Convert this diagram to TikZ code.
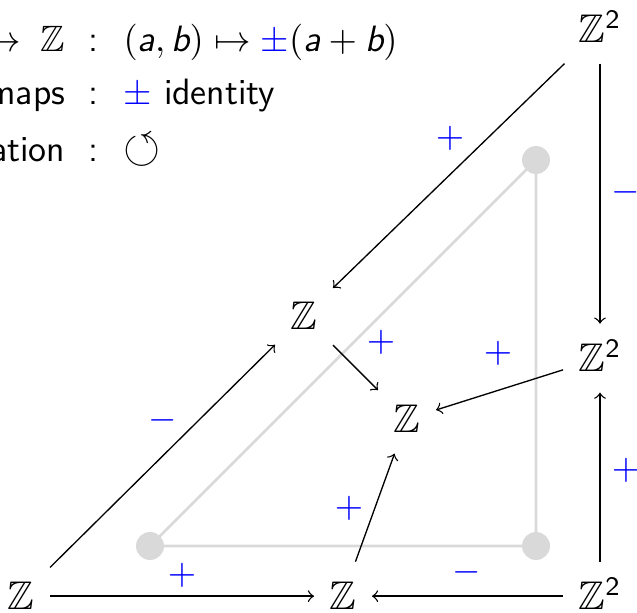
\documentclass[tikz,border=0pt]{standalone}
\usepackage{amssymb}
\usepackage{xcolor}
\definecolor{TriGray}{HTML}{D9D9D9}
\definecolor{SignBlue}{HTML}{0000FF}
\newcommand{\Zsq}{\mathbb{Z}^{\mathsf{2}}}
\newcommand{\bluepm}{{\color{SignBlue}\pm}}
\tikzset{
  obj/.style={font=\large,text height=9.8pt,text depth=1.5pt,inner sep=4.5pt},
  sign/.style={text=SignBlue,inner sep=0pt,font=\fontsize{11}{13}\selectfont},
  row/.style={inner sep=0pt,font=\fontsize{11}{13}\selectfont\sffamily},
  map/.style={->},
}

\begin{document}
\begin{tikzpicture}[x=0.3pt,y=-0.3pt]
\path[use as bounding box] (0,0) rectangle (637,613);
\clip (0,0) rectangle (637,613);
% legend
\node[row,anchor=base east] (r1l) at (66,52) {$\to\;\mathbb{Z}$};
\node[row,anchor=base] (r1c) at (93,52) {:};
\node[row,anchor=base west] (r1r) at (123,52) {$(\textit{a},\textit{b})\mapsto\bluepm(\textit{a}+\textit{b})$};
\node[row,anchor=base east] (r2l) at (66,105) {maps};
\node[row,anchor=base] (r2c) at (93,105) {:};
\node[row,anchor=base west] (r2r) at (123,105) {$\bluepm$ identity};
\node[row,anchor=base east] (r3l) at (66,162) {ation};
\node[row,anchor=base] (r3c) at (93,162) {:};
\node[row,anchor=base west] (r3r) at (123,163) {\scalebox{1.3}{$\circlearrowleft$}};
% gray triangle
\coordinate (tr) at (536,160);
\coordinate (bl) at (150,546);
\coordinate (br) at (536,546);
\draw[TriGray,line width=0.8pt] (bl) -- (tr) -- (br) -- cycle;
\fill[TriGray] (tr) circle (14);
\fill[TriGray] (bl) circle (14);
\fill[TriGray] (br) circle (14);
% groups
\node[obj,anchor=base] (Za) at (600,43) {$\Zsq$};
\node[obj,anchor=base] (Zb) at (600,372) {$\Zsq$};
\node[obj,anchor=base] (Zc) at (600,610) {$\Zsq$};
\node[obj,anchor=base] (Zd) at (21,610) {$\mathbb{Z}$};
\node[obj,anchor=base] (Ze) at (343,610) {$\mathbb{Z}$};
\node[obj,anchor=base] (Zf) at (304,330) {$\mathbb{Z}$};
\node[obj,anchor=base] (Zg) at (407,433) {$\mathbb{Z}$};
% maps
\draw[map] (Za) -- (Zf);
\draw[map] (Za) -- (Zb);
\draw[map] (Zc) -- (Zb);
\draw[map] (Zd) -- (Zf);
\draw[map] (Zf) -- (Zg);
\draw[map] (Zb) -- (Zg);
\draw[map] (Ze) -- (Zg);
\draw[map] (Zd) -- (Ze);
\draw[map] (Zc) -- (Ze);
% signs
\node[sign] (sa) at (450,138) {$+$};
\node[sign] (sb) at (626,192) {$-$};
\node[sign] (sc) at (626,470) {$+$};
\node[sign] (sd) at (163,420) {$-$};
\node[sign] (se) at (381,342) {$+$};
\node[sign] (sf) at (498,353) {$+$};
\node[sign] (sg) at (349,508) {$+$};
\node[sign] (sh) at (182,575) {$+$};
\node[sign] (si) at (467,572) {$-$};
\end{tikzpicture}
\end{document}
